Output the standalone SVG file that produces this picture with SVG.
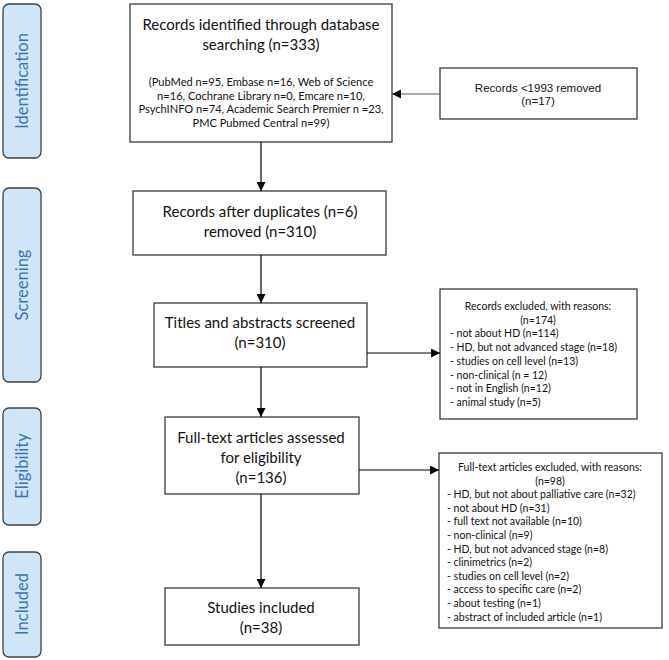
<svg xmlns="http://www.w3.org/2000/svg" width="669" height="660" viewBox="0 0 669 660">
<defs>
<marker id="ah" viewBox="0 0 10 10" refX="10" refY="5" markerWidth="9" markerHeight="9" markerUnits="userSpaceOnUse" orient="auto">
<path d="M0,0 L10,5 L0,10 z" fill="#000"/>
</marker>
</defs>
<style>
.box{fill:#fff;stroke:#3a3a3a;stroke-width:1.3}
.side{fill:#cfe6f8;stroke:#404040;stroke-width:1.3}
.sidet{font-family:Lato,"Liberation Sans",sans-serif;font-size:16.5px;fill:#3d6fc0;text-anchor:middle}
.m{font-family:Lato,"Liberation Sans",sans-serif;font-size:15px;fill:#111;text-anchor:middle}
.s{font-family:Lato,"Liberation Sans",sans-serif;font-size:10.5px;fill:#111}
.s1{font-family:Lato,"Liberation Sans",sans-serif;font-size:11.1px;fill:#111;text-anchor:middle}
.c{text-anchor:middle}
.a{font-family:"Liberation Sans",Arial,sans-serif;font-size:11.5px;fill:#111;text-anchor:middle}
.ln{stroke:#000;stroke-width:1.2;fill:none;marker-end:url(#ah)}
</style>
<g id="side-identification"><rect class="side" x="3" y="4" width="38" height="154" rx="6"/><text class="sidet" transform="translate(28,81) rotate(-90)">Identification</text></g>
<g id="side-screening"><rect class="side" x="3" y="188" width="38" height="194" rx="6"/><text class="sidet" transform="translate(28,285) rotate(-90)">Screening</text></g>
<g id="side-eligibility"><rect class="side" x="3" y="408" width="38" height="117" rx="6"/><text class="sidet" transform="translate(28,466) rotate(-90)">Eligibility</text></g>
<g id="side-included"><rect class="side" x="3" y="552" width="38" height="105" rx="6"/><text class="sidet" transform="translate(28,604) rotate(-90)">Included</text></g>

<g id="identified"><rect class="box" x="130" y="4" width="262" height="138"/>
<text class="m" x="261" y="30">Records identified through database</text>
<text class="m" x="261" y="50">searching (n=333)</text>
<text class="s1" x="261" y="86">(PubMed n=95, Embase n=16, Web of Science</text>
<text class="s1" x="261" y="99.5">n=16, Cochrane Library n=0, Emcare n=10,</text>
<text class="s1" x="261" y="113">PsychINFO n=74, Academic Search Premier n =23,</text>
<text class="s1" x="261" y="126.5">PMC Pubmed Central n=99)</text>
</g>
<g id="removed1993"><rect class="box" x="440" y="68" width="197" height="51"/>
<text class="a" x="538" y="92">Records &lt;1993 removed</text>
<text class="a" x="538" y="105">(n=17)</text>
</g>
<g id="duplicates"><rect class="box" x="133" y="191" width="253" height="64"/>
<text class="m" x="260" y="217">Records after duplicates (n=6)</text>
<text class="m" x="260" y="237">removed (n=310)</text>
</g>
<g id="screened"><rect class="box" x="154" y="303" width="213" height="64"/>
<text class="m" x="260" y="328">Titles and abstracts screened</text>
<text class="m" x="260" y="348">(n=310)</text>
</g>
<g id="excluded1"><rect class="box" x="440" y="289" width="197" height="130"/>
<text class="s c" x="538" y="310">Records excluded, with reasons:</text>
<text class="s c" x="538" y="323.7">(n=174)</text>
<text class="s" x="450" y="337.4">- not about HD (n=114)</text>
<text class="s" x="450" y="351.1">- HD, but not advanced stage (n=18)</text>
<text class="s" x="450" y="364.8">- studies on cell level (n=13)</text>
<text class="s" x="450" y="378.5">- non-clinical (n = 12)</text>
<text class="s" x="450" y="392.2">- not in English (n=12)</text>
<text class="s" x="450" y="405.9">- animal study (n=5)</text>
</g>
<g id="fulltext"><rect class="box" x="165" y="417" width="194" height="77"/>
<text class="m" x="261" y="443">Full-text articles assessed</text>
<text class="m" x="261" y="463">for eligibility</text>
<text class="m" x="261" y="483">(n=136)</text>
</g>
<g id="excluded2"><rect class="box" x="439" y="453" width="223" height="175"/>
<text class="s c" x="550" y="471">Full-text articles excluded, with reasons:</text>
<text class="s c" x="550" y="484.6">(n=98)</text>
<text class="s" x="447" y="498.2">- HD, but not about palliative care (n=32)</text>
<text class="s" x="447" y="511.8">- not about HD (n=31)</text>
<text class="s" x="447" y="525.4">- full text not available (n=10)</text>
<text class="s" x="447" y="539">- non-clinical (n=9)</text>
<text class="s" x="447" y="552.6">- HD, but not advanced stage (n=8)</text>
<text class="s" x="447" y="566.2">- clinimetrics (n=2)</text>
<text class="s" x="447" y="579.8">- studies on cell level (n=2)</text>
<text class="s" x="447" y="593.4">- access to specific care (n=2)</text>
<text class="s" x="447" y="607">- about testing (n=1)</text>
<text class="s" x="447" y="620.6">- abstract of included article (n=1)</text>
</g>
<g id="included"><rect class="box" x="165" y="588" width="194" height="57"/>
<text class="m" x="261" y="613">Studies included</text>
<text class="m" x="261" y="633">(n=38)</text>
</g>

<g id="connectors">
<line class="ln" x1="261" y1="142" x2="261" y2="191"/>
<line class="ln" x1="440" y1="94" x2="392" y2="94" style="stroke:#555"/>
<line class="ln" x1="261" y1="255" x2="261" y2="303"/>
<line class="ln" x1="367" y1="353" x2="440" y2="353"/>
<line class="ln" x1="261" y1="367" x2="261" y2="417"/>
<line class="ln" x1="359" y1="470" x2="439" y2="470"/>
<line class="ln" x1="261" y1="494" x2="261" y2="588"/>
</g>
</svg>
